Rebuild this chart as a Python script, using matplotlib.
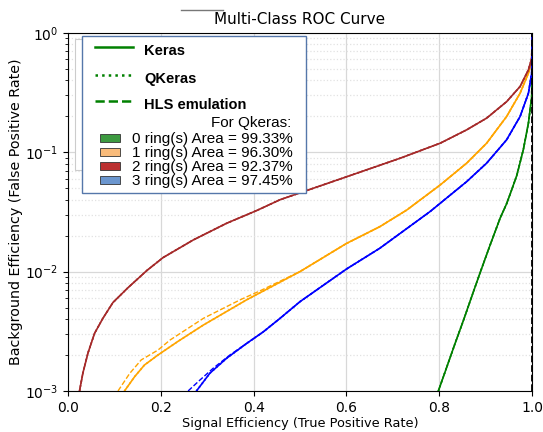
import matplotlib.pyplot as plt
from matplotlib.lines import Line2D
from matplotlib.patches import Rectangle

# ----------------------------------------------------------------------------
# ROC points (tpr, fpr) for each ring class
# ----------------------------------------------------------------------------
classes = ["0 ring(s)", "1 ring(s)", "2 ring(s)", "3 ring(s)"]
areas = [99.33, 96.30, 92.37, 97.45]
curve_colors = ["green", "orange", "brown", "blue"]
patch_colors = ["#3d9a40", "#f9bb7a", "#bb3030", "#6b96cf"]

# Keras (solid)
tpr0 = [0.798, 0.816, 0.834, 0.852, 0.870, 0.888, 0.909, 0.931, 0.945, 0.953,
        0.967, 0.981, 0.992, 0.999, 1.0, 1.0]
fpr0 = [0.001, 0.00158, 0.0025, 0.0039, 0.0062, 0.0098, 0.0165, 0.028, 0.037, 0.045,
        0.064, 0.105, 0.175, 0.29, 0.6, 1.0]
tpr1 = [0.122, 0.144, 0.165, 0.194, 0.237, 0.292, 0.385, 0.5, 0.6, 0.672, 0.73,
        0.802, 0.859, 0.902, 0.945, 0.974, 0.992, 0.999, 1.0]
fpr1 = [0.001, 0.00132, 0.00165, 0.0020, 0.0026, 0.00357, 0.0058, 0.0100, 0.0172, 0.0238, 0.0328,
        0.0532, 0.081, 0.119, 0.199, 0.312, 0.459, 0.575, 1.0]
tpr2 = [0.0251, 0.0323, 0.0431, 0.0575, 0.0754, 0.097, 0.129, 0.170, 0.205, 0.270, 0.342,
        0.407, 0.457, 0.55, 0.6, 0.7155, 0.802, 0.859, 0.902, 0.945, 0.974, 0.992, 0.999, 1.0]
fpr2 = [0.001, 0.00141, 0.00207, 0.00304, 0.00406, 0.0055, 0.0073, 0.0102, 0.0131, 0.0184, 0.0254,
        0.0325, 0.040, 0.0533, 0.0622, 0.089, 0.119, 0.154, 0.193, 0.265, 0.355, 0.49, 0.61, 1.0]
tpr3 = [0.277, 0.306, 0.342, 0.385, 0.421, 0.457, 0.5, 0.6, 0.672, 0.78, 0.859, 0.902,
        0.945, 0.974, 0.992, 0.999, 1.0]
fpr3 = [0.001, 0.00141, 0.00188, 0.0025, 0.00313, 0.00406, 0.0056, 0.0105, 0.0157, 0.0318, 0.0567, 0.081,
        0.127, 0.199, 0.312, 0.46, 1.0]

# HLS emulation (dashed) - differs only at the low end
hls_tpr1 = [0.108, 0.133, 0.158, 0.194, 0.22, 0.292, 0.371, 0.414] + tpr1[7:]
hls_fpr1 = [0.001, 0.0014, 0.00182, 0.0022, 0.00267, 0.00406, 0.0058, 0.0069] + fpr1[7:]
hls_tpr3 = [0.259, 0.284, 0.313, 0.349, 0.385] + tpr3[4:]
hls_fpr3 = [0.001, 0.00123, 0.00155, 0.0020, 0.0025] + fpr3[4:]

keras = [(tpr0, fpr0), (tpr1, fpr1), (tpr2, fpr2), (tpr3, fpr3)]
qkeras = [(tpr0, fpr0), (tpr1, fpr1), (tpr2, fpr2), (tpr3, fpr3)]
hls = [(tpr0, fpr0), (hls_tpr1, hls_fpr1), (tpr2, fpr2), (hls_tpr3, hls_fpr3)]

diag_x = [1.0, 1.0]
diag_y = [0.001, 1.0]

fig = plt.figure(figsize=(5.43, 4.32), dpi=100)
ax = fig.add_axes([0.125, 0.095, 0.855, 0.829])

for i in range(4):
    ax.plot(*keras[i], color=curve_colors[i], lw=1.2, ls='-')
    ax.plot(*qkeras[i], color=curve_colors[i], lw=1.2, ls=':')
    ax.plot(*hls[i], color=curve_colors[i], lw=1.0, ls='--')
ax.plot(diag_x, diag_y, 'k--', lw=1.3)

ax.set_yscale('log')
ax.set_xlim(0, 1)
ax.set_ylim(1e-3, 1)
ax.grid(True, which='major', color='#d8d8d8', lw=0.9)
ax.grid(True, which='minor', color='#e2e2e2', ls=':', lw=0.9)
ax.set_xlabel("Signal Efficiency (True Positive Rate)", fontsize=9.3, labelpad=2)
ax.set_ylabel("Background Efficiency (False Positive Rate)", fontsize=10.3, labelpad=1)
ax.set_title("Multi-Class ROC Curve", fontsize=11)
ax.tick_params(labelsize=10)


def fx(px):
    return px / 543


def fy(py):
    return 1 - py / 432


# small stray mark above the title
fig.add_artist(Line2D([fx(181), fx(223)], [fy(10), fy(10)], transform=fig.transFigure,
                      color='#777777', lw=1.0))

# faint original legend underneath the pasted one
fig.add_artist(Rectangle((fx(75), fy(170)), 100 / 543, 131 / 432,
                         transform=fig.transFigure, fc='white', ec='#cccccc', lw=0.8))

# pasted legend box
fig.add_artist(Rectangle((fx(82), fy(193)), 224 / 543, 157 / 432,
                         transform=fig.transFigure, fc='white', ec='#5577aa', lw=1.0))

styles = [('-', 'Keras', 49), (':', 'QKeras', 77), ('--', 'HLS emulation', 103)]
for ls, txt, y in styles:
    fig.add_artist(Line2D([fx(95), fx(133)], [fy(y - 2), fy(y - 2)], transform=fig.transFigure,
                          color='green', ls=ls, lw=1.8))
    fig.text(fx(144), fy(y + 2), txt, fontsize=10.5, fontweight='bold',
             family='Liberation Sans', va='center', ha='left')

fig.text(fx(291), fy(123), "For Qkeras:", fontsize=11, family='Liberation Sans',
         va='center', ha='right')

for i, y in enumerate([138, 152, 166, 180]):
    fig.add_artist(Rectangle((fx(100), fy(y + 4)), 20 / 543, 8 / 432, transform=fig.transFigure,
                             fc=patch_colors[i], ec='#333333', lw=0.6))
    fig.text(fx(132), fy(y + 1), f"{classes[i]} Area = {areas[i]:.2f}%", fontsize=11,
             family='Liberation Sans', va='center', ha='left')

fig.savefig("out.png", dpi=100)
